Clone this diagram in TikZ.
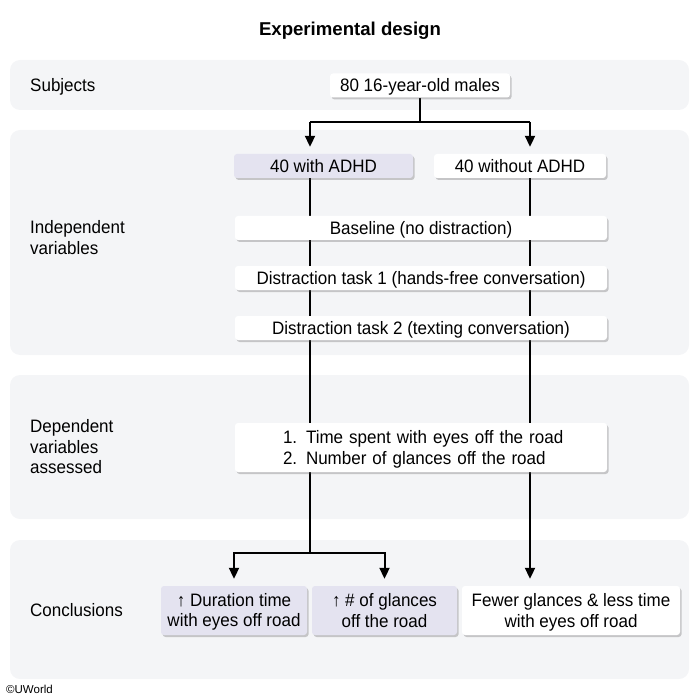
\documentclass[tikz,border=0pt]{standalone}
\usepackage{fontspec}
\setmainfont{Liberation Sans}[FakeStretch=0.945]
\newfontfamily\titlefont{Liberation Sans}
\usetikzlibrary{arrows.meta,shadows,calc}
\definecolor{bandgray}{HTML}{F4F5F7}
\definecolor{lav}{HTML}{E4E3F0}
\newcommand\mystrut{\rule[-3.6pt]{0pt}{20pt}}
\pgfdeclarelayer{bands}
\pgfdeclarelayer{lines}
\pgfsetlayers{bands,lines,main}
\tikzset{
  band/.style={fill=bandgray, draw=none, rounded corners=10pt},
  box/.style={rectangle, rounded corners=3pt, fill=white, draw=none, inner sep=0pt,
    minimum height=24pt, align=center,
    drop shadow={shadow xshift=1.6pt, shadow yshift=-2pt, fill=black!70, opacity=0.28}},
  lavbox/.style={box, fill=lav},
  tallbox/.style={minimum height=49pt},
  lbl/.style={anchor=west, align=left, inner sep=0pt},
  conn/.style={draw=black, line width=2pt},
  arr/.style={conn, -{Triangle[length=11pt,width=10pt]}, shorten >=7pt},
}
\begin{document}
\begin{tikzpicture}[x=1pt,y=-1pt,
  every node/.append style={font=\fontsize{18}{20}\selectfont}]
\useasboundingbox (0,0) rectangle (700,700);

% title and footer
\node[font=\titlefont\fontsize{18.6}{22}\selectfont\bfseries] (title) at (350,31) {Experimental design};
\node[anchor=west, inner sep=0pt, font=\titlefont\fontsize{11.5}{13}\selectfont] (copy) at (6,689) {©UWorld};

% row labels
\node[lbl] (lsub) at (30,85) {\mystrut Subjects};
\node[lbl] (lind) at (30,238) {\mystrut Independent\\\mystrut variables};
\node[lbl] (ldep) at (30,447) {\mystrut Dependent\\\mystrut variables\\\mystrut assessed};
\node[lbl] (lcon) at (30,610) {\mystrut Conclusions};

% boxes
\node[box, minimum width=180pt] (males) at (420,85.5) {\mystrut 80 16-year-old males};
\node[lavbox, minimum width=179pt] (adhd) at (323.5,166) {\mystrut 40 with ADHD};
\node[box, minimum width=172pt] (noadhd) at (520,166) {\mystrut 40 without ADHD};
\node[box, minimum width=372pt] (base) at (421,228) {\mystrut Baseline (no distraction)};
\node[box, minimum width=372pt] (dist1) at (421,278) {\mystrut Distraction task 1 (hands-free conversation)};
\node[box, minimum width=372pt] (dist2) at (421,328) {\mystrut Distraction task 2 (texting conversation)};
\node[box, tallbox, minimum width=372pt, text width=300pt, align=left] (dep) at (421,447.5)
  {\mystrut\hspace*{12pt}\makebox[23pt][l]{1.}Time spent with eyes off the road\\\mystrut\hspace*{12pt}\makebox[23pt][l]{2.}Number of glances off the road};
\node[lavbox, tallbox, minimum width=146pt] (c1) at (234,610.5) {\mystrut ↑ Duration time\\\mystrut with eyes off road};
\node[lavbox, tallbox, minimum width=145pt] (c2) at (384.5,610.5) {\mystrut ↑ \# of glances\\\mystrut off the road};
\node[box, tallbox, minimum width=218pt] (c3) at (571,610.5) {\mystrut Fewer glances \& less time\\\mystrut with eyes off road};

% connectors
\coordinate (jL) at (310,122);
\coordinate (jR) at (530,122);
\coordinate (kL) at (310,553);
\begin{pgfonlayer}{lines}
  \draw[conn] (males.south) |- (jL);
  \draw[conn] (males.south |- jL) -- (jR);
  \draw[arr] (jL) -- (jL |- adhd.north);
  \draw[arr] (jR) -- (jR |- noadhd.north);
  \draw[conn] (adhd.south -| kL) -- (kL);
  \draw[arr] (kL) -| (c1.north);
  \draw[arr] (kL) -| (c2.north);
  \draw[arr] (noadhd.south -| jR) -- (jR |- c3.north);
\end{pgfonlayer}

% bands
\begin{pgfonlayer}{bands}
  \path[band] (10,60) rectangle (689,110);
  \path[band] (10,130) rectangle (689,355);
  \path[band] (10,375) rectangle (689,519);
  \path[band] (10,540) rectangle (689,679);
\end{pgfonlayer}
\end{tikzpicture}
\end{document}
